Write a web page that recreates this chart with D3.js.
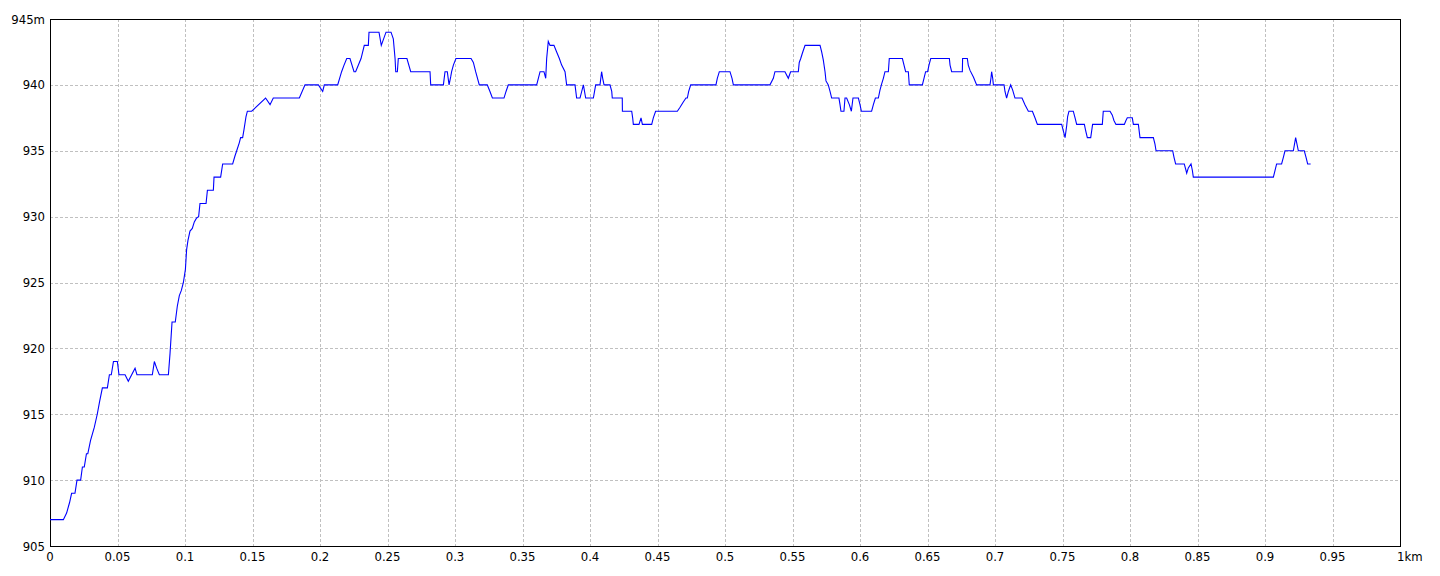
<!DOCTYPE html>
<html>
<head>
<meta charset="utf-8">
<script src="https://cdn.jsdelivr.net/npm/d3@7"></script>
<style>
  html, body { margin: 0; padding: 0; background: #ffffff; }
  svg { display: block; }
  text { font-family: "Liberation Sans Narrow", "Arial Narrow", "DejaVu Sans Condensed", sans-serif; font-size: 13px; fill: #000; }
</style>
</head>
<body>
<svg id="chart" width="1440" height="576"></svg>
<script>
// distance along route (km)
const distKm = [
  0, 0.0099, 0.0123, 0.0145, 0.016, 0.0185, 0.020, 0.0227, 0.024, 0.0254, 0.027, 0.028, 0.030, 0.0328, 0.035, 0.0368,
  0.0388, 0.0425, 0.044, 0.0454, 0.047, 0.0499, 0.0511, 0.0556, 0.058, 0.063, 0.0644, 0.0758, 0.0773, 0.079, 0.081, 0.0869,
  0.0877, 0.0889, 0.0904, 0.0928, 0.0943, 0.0958, 0.0973, 0.0988, 0.1003, 0.1012, 0.1022, 0.1037, 0.1054, 0.1069, 0.1086, 0.1101,
  0.1111, 0.1156, 0.1166, 0.121, 0.1215, 0.1264, 0.1279, 0.1353, 0.137, 0.1383, 0.1402, 0.1412, 0.1427, 0.1437, 0.1452, 0.1462,
  0.1494, 0.1597, 0.163, 0.1654, 0.1847, 0.1889, 0.1988, 0.202, 0.2032, 0.2131, 0.216, 0.2178, 0.2198, 0.2222, 0.2252, 0.2264,
  0.2304, 0.2328, 0.2358, 0.2363, 0.2437, 0.2454, 0.2489, 0.2526, 0.2543, 0.2556, 0.2561, 0.2573, 0.258, 0.2644, 0.2672, 0.2815,
  0.282, 0.2914, 0.2926, 0.2943, 0.2956, 0.2968, 0.2975, 0.2988, 0.3007, 0.3119, 0.3136, 0.3153, 0.318, 0.3239, 0.3259, 0.3277,
  0.3363, 0.3378, 0.3395, 0.3605, 0.363, 0.3659, 0.3672, 0.3679, 0.3691, 0.3704, 0.3733, 0.3753, 0.3773, 0.379, 0.3815, 0.3827,
  0.3889, 0.3901, 0.3926, 0.3951, 0.3968, 0.4025, 0.4042, 0.4074, 0.4086, 0.4094, 0.4104, 0.4148, 0.4161, 0.4165, 0.4239, 0.4240,
  0.4309, 0.4316, 0.4321, 0.4363, 0.4378, 0.4388, 0.4457, 0.4469, 0.4486, 0.4647, 0.4667, 0.4691, 0.4711, 0.4721, 0.4731, 0.4746,
  0.4933, 0.4943, 0.4958, 0.5037, 0.5052, 0.5062, 0.5333, 0.5358, 0.537, 0.5444, 0.5469, 0.5486, 0.5543, 0.555, 0.5561, 0.5573,
  0.5593, 0.5704, 0.5716, 0.5728, 0.5741, 0.5748, 0.5765, 0.5778, 0.579, 0.5844, 0.5852, 0.5859, 0.5881, 0.5889, 0.5901, 0.5921,
  0.5936, 0.5948, 0.5988, 0.6, 0.601, 0.6086, 0.6099, 0.6114, 0.6136, 0.6148, 0.6161, 0.6173, 0.6185, 0.621, 0.6217, 0.6314,
  0.6326, 0.6338, 0.6358, 0.6365, 0.6462, 0.6474, 0.6486, 0.6501, 0.6511, 0.6524, 0.6662, 0.6667, 0.6679, 0.6758, 0.6760, 0.6795,
  0.6802, 0.6815, 0.684, 0.6864, 0.6963, 0.697, 0.6975, 0.6983, 0.6988, 0.7067, 0.7074, 0.7086, 0.7099, 0.7116, 0.7131, 0.7148,
  0.72, 0.7222, 0.7247, 0.7277, 0.7296, 0.7314, 0.7494, 0.7506, 0.7519, 0.7531, 0.7538, 0.7548, 0.758, 0.7593, 0.7605, 0.7662,
  0.7672, 0.7684, 0.7709, 0.7716, 0.7723, 0.7795, 0.7802, 0.7852, 0.7869, 0.7881, 0.7896, 0.7958, 0.797, 0.798, 0.8017, 0.8025,
  0.8062, 0.8074, 0.8173, 0.8185, 0.8193, 0.8316, 0.8326, 0.8338, 0.8402, 0.8415, 0.842, 0.8432, 0.8452, 0.8462, 0.8469, 0.9062,
  0.9074, 0.9086, 0.9123, 0.9136, 0.9148, 0.921, 0.9227, 0.9247, 0.9291, 0.9304, 0.9316, 0.9338
];
// elevation (m)
const elevM = [
  907, 907, 907.5, 908.3, 909, 909, 910, 910, 911, 911, 912, 912, 913, 914, 915, 916,
  917, 917, 918, 918, 919, 919, 918, 918, 917.5, 918.5, 918, 918, 919, 918.5, 918, 918,
  918, 919.6, 922, 922, 923.2, 924, 924.4, 925, 926, 927.5, 928.2, 928.9, 929.1, 929.6, 929.9, 930,
  931, 931, 932, 932, 933, 933, 934, 934, 934.6, 935, 935.6, 936, 936, 936.6, 937.6, 938,
  938, 939, 938.5, 939, 939, 940, 940, 939.5, 940, 940, 941, 941.5, 942, 942, 941, 941,
  942, 943, 943, 944, 944, 943, 944, 944, 943.5, 942, 941, 941, 942, 942, 941, 941,
  940, 940, 941, 941, 940, 940.6, 941, 941.5, 942, 942, 941.7, 941, 940, 940, 939.5, 939,
  939, 939.5, 940, 940, 941, 941, 940.5, 942, 943.3, 943, 943, 942.5, 942, 941.5, 941, 940,
  940, 939, 939, 940, 939, 939, 940, 940, 941, 940.5, 940, 940, 939.5, 939, 939, 938,
  938, 937.5, 937, 937, 937.5, 937, 937, 937.5, 938, 938, 938.3, 938.7, 939, 939, 939.5, 940,
  940, 940.5, 941, 941, 940.5, 940, 940, 940.5, 941, 941, 940.5, 941, 941, 941.7, 942, 942.4,
  943, 943, 942.5, 941.9, 941, 940.3, 940, 939.5, 939, 939, 938.5, 938, 938, 939, 939, 938.5,
  938, 939, 939, 938.5, 938, 938, 938.5, 939, 939, 939.6, 940.1, 940.5, 941, 941, 942, 942,
  941.5, 941, 941, 940, 940, 940.5, 941, 941, 941.5, 942, 942, 941.5, 941, 941, 942, 942,
  941.5, 941.1, 940.6, 940, 940, 940.5, 941, 940.5, 940, 940, 939.5, 939, 939.5, 940, 939.6, 939,
  939, 938.5, 938, 938, 937.5, 937, 937, 936.5, 936, 936.9, 937.6, 938, 938, 937.5, 937, 937,
  936.5, 936, 936, 936.5, 937, 937, 938, 938, 937.7, 937.3, 937, 937, 937.3, 937.5, 937.5, 937,
  937, 936, 936, 935.5, 935, 935, 934.5, 934, 934, 933.5, 933.3, 933.7, 934, 933.5, 933, 933,
  933.5, 934, 934, 934.5, 935, 935, 936, 935, 935, 934.5, 934, 934
];
const xTicks = [0, 0.05, 0.1, 0.15, 0.2, 0.25, 0.3, 0.35, 0.4, 0.45, 0.5, 0.55, 0.6, 0.65, 0.7, 0.75, 0.8, 0.85, 0.9, 0.95, 1];
const xTickLabels = ["0", "0.05", "0.1", "0.15", "0.2", "0.25", "0.3", "0.35", "0.4", "0.45", "0.5", "0.55", "0.6", "0.65", "0.7", "0.75", "0.8", "0.85", "0.9", "0.95", "1km"];
const yTicks = [905, 910, 915, 920, 925, 930, 935, 940, 945];
const yTickLabels = ["905", "910", "915", "920", "925", "930", "935", "940", "945m"];

const svg = d3.select("#chart");
const plotLeft = 50, plotRight = 1400, plotTop = 19, plotBottom = 546;

const x = d3.scaleLinear().domain([0, 1]).range([plotLeft, plotRight]);
const y = d3.scaleLinear().domain([905, 945]).range([plotBottom, plotTop]);

// grid
const grid = svg.append("g");
grid.selectAll("line.vx").data(xTicks.slice(1, -1)).enter().append("line")
  .attr("x1", d => Math.round(x(d)) + 0.5).attr("x2", d => Math.round(x(d)) + 0.5)
  .attr("y1", plotTop).attr("y2", plotBottom)
  .attr("stroke", "#c0c0c0").attr("stroke-width", 1).attr("stroke-dasharray", "3,2");
grid.selectAll("line.hy").data(yTicks.slice(1, -1)).enter().append("line")
  .attr("y1", d => Math.round(y(d)) + 0.5).attr("y2", d => Math.round(y(d)) + 0.5)
  .attr("x1", plotLeft).attr("x2", plotRight)
  .attr("stroke", "#c0c0c0").attr("stroke-width", 1).attr("stroke-dasharray", "3,2");

// frame
svg.append("rect").attr("x", plotLeft + 0.5).attr("y", plotTop + 0.5)
  .attr("width", plotRight - plotLeft).attr("height", plotBottom - plotTop)
  .attr("fill", "none").attr("stroke", "#000").attr("stroke-width", 1);

// line
const pts = distKm.map((d, i) => [d, elevM[i]]);
const line = d3.line().x(d => x(d[0])).y(d => y(d[1]));
svg.append("path").datum(pts).attr("d", line)
  .attr("fill", "none").attr("stroke", "#0000ff").attr("stroke-width", 1.1)
  .attr("stroke-linejoin", "miter");

// x labels
svg.append("g").selectAll("text").data(xTicks).enter().append("text")
  .attr("x", (d, i) => i === xTicks.length - 1 ? x(d) - 3 : x(d))
  .attr("y", 561)
  .attr("text-anchor", (d, i) => i === xTicks.length - 1 ? "start" : "middle")
  .text((d, i) => xTickLabels[i]);

// y labels
svg.append("g").selectAll("text").data(yTicks).enter().append("text")
  .attr("x", 45)
  .attr("y", d => y(d))
  .attr("dy", "0.35em")
  .attr("text-anchor", "end")
  .text((d, i) => yTickLabels[i]);
</script>
</body>
</html>
